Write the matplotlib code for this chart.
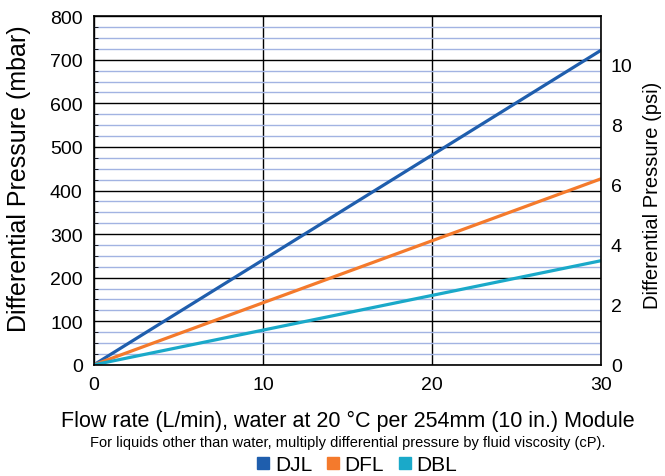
import matplotlib.pyplot as plt
import numpy as np
from matplotlib.ticker import MultipleLocator

plt.rcParams['font.family'] = ['Liberation Sans', 'DejaVu Sans']

# flow rate (L/min) and pressure drop (mbar) per module
flow = [0, 30]
djl = [0, 722]
dfl = [0, 427]
dbl = [0, 239]
names = ['DJL', 'DFL', 'DBL']
colors = ['#1f5ead', '#f47a2c', '#1aa9c9']

MBAR_PER_PSI = 68.9476

W, H = 665, 477
fig = plt.figure(figsize=(W / 100, H / 100), dpi=100)
ax1 = fig.add_axes([0.141, 0.233, 0.763, 0.731])

ax1.set_xlim(0, 30)
ax1.set_ylim(0, 800)
ax1.xaxis.set_major_locator(MultipleLocator(10))
ax1.yaxis.set_major_locator(MultipleLocator(100))
ax1.yaxis.set_minor_locator(MultipleLocator(25))

ax1.grid(True, which='minor', axis='y', color='#a2b3e2', lw=1.0)
ax1.grid(True, which='major', color='black', lw=1.0)
ax1.set_axisbelow(True)

for y, c, n in zip([djl, dfl, dbl], colors, names):
    ax1.plot(flow, y, color=c, lw=2.3, label=n, solid_capstyle='butt')

ax1.tick_params(axis='both', which='major', labelsize=14, length=0, pad=8)
ax1.tick_params(axis='y', which='minor', length=3, direction='in')
for s in ax1.spines.values():
    s.set_linewidth(1.2)

ax1.set_xlabel('Flow rate (L/min), water at 20 °C per 254mm (10 in.) Module',
               fontsize=15.5, labelpad=12)

# psi scale on the right
ax2 = ax1.twinx()
ax2.set_ylim(0, 800 / MBAR_PER_PSI)
ax2.yaxis.set_major_locator(MultipleLocator(2))
ax2.tick_params(axis='y', labelsize=14, length=0, pad=7)
for s in ax2.spines.values():
    s.set_visible(False)

fig.text(19 / W, 1 - 179 / H, 'Differential Pressure (mbar)', rotation=90,
         ha='center', va='center', fontsize=18)
fig.text(652 / W, 1 - 195 / H, 'Differential Pressure (psi)', rotation=90,
         ha='center', va='center', fontsize=14.5)

fig.text(348 / W, 1 - 443 / H, 'For liquids other than water, multiply differential pressure by fluid viscosity (cP).',
         ha='center', va='center', fontsize=10.5)

handles = [plt.Line2D([], [], marker='s', ls='', color=c, markersize=9) for c in colors]
fig.legend(handles, names, loc='center', bbox_to_anchor=(355 / W, 1 - 466 / H), ncol=3,
           frameon=False, fontsize=15, handletextpad=0.05, columnspacing=0.5,
           handlelength=1.0, borderpad=0)

fig.savefig('out.png', dpi=100)
